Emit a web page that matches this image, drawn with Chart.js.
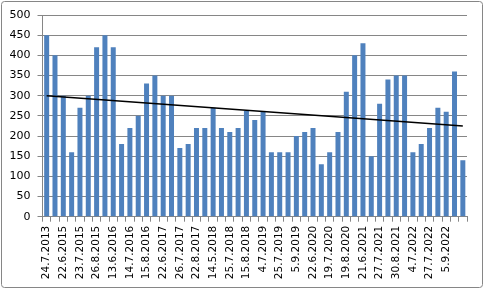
<!DOCTYPE html>
<html>
<head>
<meta charset="utf-8">
<script src="https://cdn.jsdelivr.net/npm/chart.js@4/dist/chart.umd.min.js"></script>
<style>
  html, body { margin: 0; padding: 0; background: #fff; }
  #wrap { width: 484px; height: 290px; position: relative; }
</style>
</head>
<body>
<div id="wrap"><canvas id="chart" width="484" height="290"></canvas></div>
<script>
// only every other bar carries a date label in the picture
const dates = [
  '24.7.2013', '', '22.6.2015', '', '23.7.2015', '', '26.8.2015', '', '13.6.2016', '',
  '14.7.2016', '', '15.8.2016', '', '22.6.2017', '', '26.7.2017', '', '22.8.2017', '',
  '14.5.2018', '', '25.7.2018', '', '15.8.2018', '', '4.7.2019', '', '25.7.2019', '',
  '5.9.2019', '', '22.6.2020', '', '19.7.2020', '', '19.8.2020', '', '21.6.2021', '',
  '27.7.2021', '', '30.8.2021', '', '4.7.2022', '', '27.7.2022', '', '5.9.2022', '', '',
];
const values = [
  450, 400, 300, 160, 270, 300, 420, 450, 420, 180,
  220, 250, 330, 350, 300, 300, 170, 180, 220, 220,
  270, 220, 210, 220, 262, 240, 260, 160, 160, 160,
  200, 210, 220, 130, 160, 210, 310, 400, 430, 150,
  280, 340, 350, 350, 160, 180, 220, 270, 260, 360, 140,
];
const trendStart = 300;
const trendEnd = 225;
const yTicks = [0, 50, 100, 150, 200, 250, 300, 350, 400, 450, 500];

const trend = values.map(() => null);
trend[0] = trendStart;
trend[trend.length - 1] = trendEnd;

const gray = '#868686';
const font = { family: 'DejaVu Sans', size: 10.5 };

const frame = {
  id: 'frame',
  beforeDraw(chart) {
    const ctx = chart.ctx;
    ctx.save();
    ctx.strokeStyle = gray;
    ctx.lineWidth = 1;
    ctx.beginPath();
    ctx.roundRect(1.5, 1.5, 481, 286, 3);
    ctx.stroke();
    ctx.restore();
  },
};

new Chart(document.getElementById('chart'), {
  type: 'bar',
  data: {
    labels: dates,
    datasets: [
      {
        type: 'line',
        data: trend,
        borderColor: '#000',
        borderWidth: 1.5,
        pointRadius: 0,
        spanGaps: true,
        order: 0,
      },
      {
        data: values,
        backgroundColor: '#4f81bd',
        barPercentage: 0.6,
        categoryPercentage: 1,
        order: 1,
      },
    ],
  },
  plugins: [frame],
  options: {
    responsive: false,
    animation: false,
    layout: { padding: { left: 0, top: 15, right: 17, bottom: 0 } },
    plugins: { legend: { display: false }, tooltip: { enabled: false } },
    scales: {
      x: {
        offset: true,
        grid: { offset: true, drawOnChartArea: false, color: gray, tickLength: 5 },
        border: { color: gray },
        ticks: {
          autoSkip: false, minRotation: 90, maxRotation: 90,
          color: '#000', font, padding: 4,
        },
        afterFit: (s) => { s.height = 73.3; },
      },
      y: {
        min: 0, max: 500,
        afterBuildTicks: (s) => { s.ticks = yTicks.map((v) => ({ value: v })); },
        grid: { color: gray, tickLength: 5 },
        border: { color: gray },
        ticks: { color: '#000', font: { family: 'DejaVu Sans', size: 11 }, padding: 7 },
        afterFit: (s) => { s.width = 42.5; },
      },
    },
  },
});
</script>
</body>
</html>
